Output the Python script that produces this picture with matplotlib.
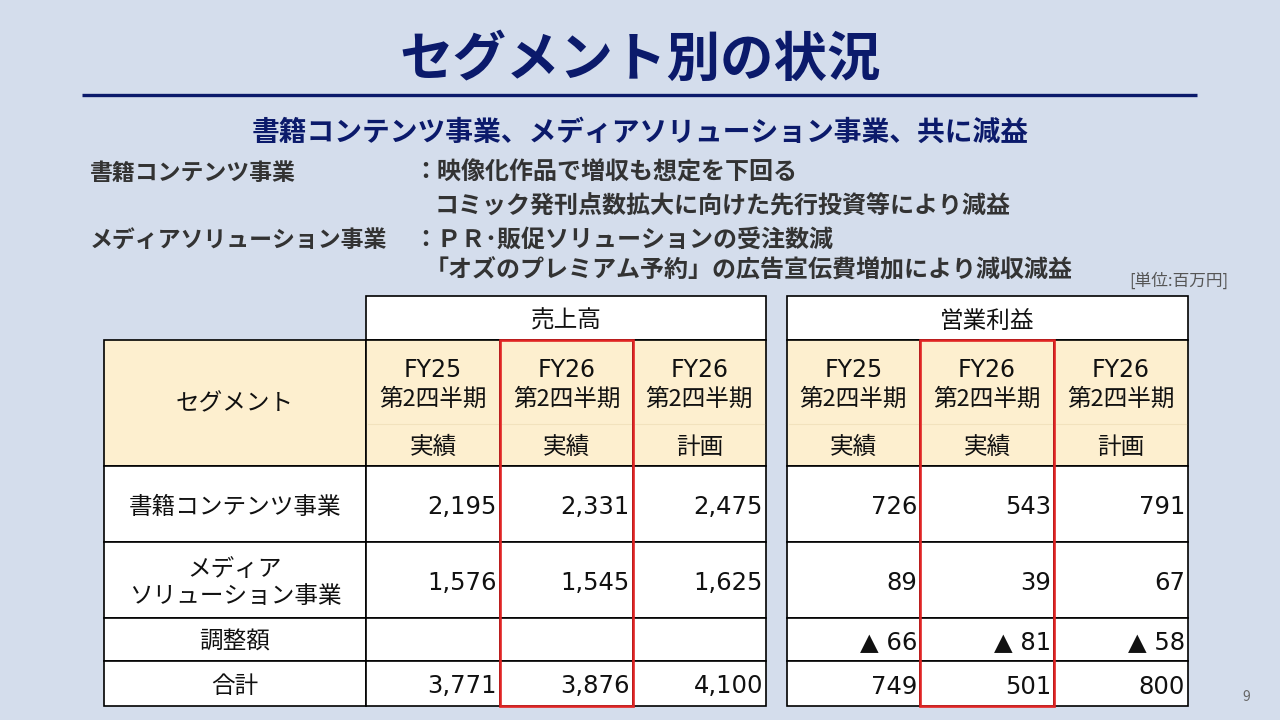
import matplotlib
matplotlib.use("Agg")
import matplotlib.pyplot as plt
from matplotlib.patches import Rectangle

plt.rcParams['font.family'] = ['Noto Sans CJK JP', 'DejaVu Sans']
NUMFONT = ['DejaVu Sans', 'Noto Sans CJK JP']

# ---------------- data ----------------
title = "セグメント別の状況"
subtitle = "書籍コンテンツ事業、メディアソリューション事業、共に減益"
body_labels = ["書籍コンテンツ事業", "メディアソリューション事業"]
body_lines = [
    "：映像化作品で増収も想定を下回る",
    "コミック発刊点数拡大に向けた先行投資等により減益",
    "：ＰＲ･販促ソリューションの受注数減",
    "「オズのプレミアム予約」の広告宣伝費増加により減収減益",
]
unit_label = "[単位:百万円]"
page_no = "9"

group_headers = ["売上高", "営業利益"]
segment_header = "セグメント"
col_years = ["FY25", "FY26", "FY26"]
col_period = ["第2四半期", "第2四半期", "第2四半期"]
col_kind = ["実績", "実績", "計画"]
segments = ["書籍コンテンツ事業", "メディア\nソリューション事業", "調整額", "合計"]

sales_fy25 = [2195, 1576, None, 3771]
sales_fy26 = [2331, 1545, None, 3876]
sales_plan = [2475, 1625, None, 4100]
op_fy25 = [726, 89, -66, 749]
op_fy26 = [543, 39, -81, 501]
op_plan = [791, 67, -58, 800]

# ---------------- style ----------------
BG = "#d4ddec"
NAVY = "#0b1a6b"
DARK = "#333333"
YELLOW = "#fdefcf"
RED = "#e02424"
DY = 3  # small downward nudge for text baseline alignment

fig = plt.figure(figsize=(12.8, 7.2), dpi=100)
fig.patch.set_facecolor(BG)
ax = fig.add_axes([0, 0, 1, 1])
ax.set_xlim(0, 1280)
ax.set_ylim(720, 0)
ax.axis("off")

# title & rule
ax.text(640, 57 + DY, title, ha="center", va="center", fontsize=38.5,
        fontweight="bold", color=NAVY)
ax.plot([82, 1197], [95, 95], color=NAVY, lw=2.4, solid_capstyle="butt")
ax.text(640, 130 + DY, subtitle, ha="center", va="center", fontsize=20,
        fontweight="bold", color=NAVY)

# body text
ax.text(90, 170 + DY, body_labels[0], ha="left", va="center", fontsize=16.5,
        fontweight="bold", color=DARK)
ax.text(90, 237 + DY, body_labels[1], ha="left", va="center", fontsize=16.5,
        fontweight="bold", color=DARK)
body_pos = [(413, 170), (435, 204), (413, 237), (425, 268)]
for (x, y), s in zip(body_pos, body_lines):
    ax.text(x, y + DY, s, ha="left", va="center", fontsize=17.3,
            fontweight="bold", color=DARK)

ax.text(1228, 281, unit_label, ha="right", va="center", fontsize=12,
        color="#555555")
ax.text(1246, 697, page_no, ha="center", va="center", fontsize=10,
        color="#666666")

# ---------------- table geometry ----------------
seg_x = (104, 366)
sales_cols = [366, 500, 633, 766]
op_cols = [787, 920, 1054, 1188]
y_top = 296
y_hdr = 340
y_hdr_bot = 466
row_edges = [466, 542, 618, 661, 706]
LW = 1.2
FS = 17


def fmt(v):
    if v is None:
        return ""
    if v < 0:
        return "▲ {:,}".format(-v)
    return "{:,}".format(v)


def draw_block(cols, header, series):
    x0, x1 = cols[0], cols[-1]
    # group header
    ax.add_patch(Rectangle((x0, y_top), x1 - x0, y_hdr - y_top,
                           facecolor="white", edgecolor="black", lw=LW))
    ax.text((x0 + x1) / 2, (y_top + y_hdr) / 2 + DY, header, ha="center",
            va="center", fontsize=FS, color="#111111")
    # column header cells
    for i in range(3):
        a, b = cols[i], cols[i + 1]
        ax.add_patch(Rectangle((a, y_hdr), b - a, y_hdr_bot - y_hdr,
                               facecolor=YELLOW, edgecolor="black", lw=LW))
        ax.plot([a + 2, b - 2], [424, 424], color="#f2e2bd", lw=0.8)
        cx = (a + b) / 2
        ax.text(cx, 367 + DY, col_years[i], ha="center", va="center",
                fontsize=FS, color="#111111", family=NUMFONT)
        ax.text(cx, 396 + DY, col_period[i], ha="center", va="center",
                fontsize=FS, color="#111111")
        ax.text(cx, 444 + DY, col_kind[i], ha="center", va="center",
                fontsize=FS, color="#111111")
    # data cells
    for r in range(len(segments)):
        ya, yb = row_edges[r], row_edges[r + 1]
        for i in range(3):
            a, b = cols[i], cols[i + 1]
            ax.add_patch(Rectangle((a, ya), b - a, yb - ya,
                                   facecolor="white", edgecolor="black",
                                   lw=LW))
            ax.text(b - 3, (ya + yb) / 2 + DY, fmt(series[i][r]), ha="right",
                    va="center", fontsize=FS + 0.5, color="#111111",
                    family=NUMFONT)
    # highlight column (current actual)
    a, b = cols[1], cols[2]
    ax.add_patch(Rectangle((a, y_hdr), b - a, row_edges[-1] - y_hdr,
                           facecolor="none", edgecolor=RED, lw=1.9,
                           zorder=5))


# segment column
ax.add_patch(Rectangle((seg_x[0], y_hdr), seg_x[1] - seg_x[0],
                       y_hdr_bot - y_hdr, facecolor=YELLOW,
                       edgecolor="black", lw=LW))
ax.text((seg_x[0] + seg_x[1]) / 2, 401 + DY, segment_header, ha="center",
        va="center", fontsize=FS, color="#111111")
for r, name in enumerate(segments):
    ya, yb = row_edges[r], row_edges[r + 1]
    ax.add_patch(Rectangle((seg_x[0], ya), seg_x[1] - seg_x[0], yb - ya,
                           facecolor="white", edgecolor="black", lw=LW))
    ax.text((seg_x[0] + seg_x[1]) / 2, (ya + yb) / 2 + DY, name, ha="center",
            va="center", fontsize=FS, color="#111111", linespacing=1.25,
            multialignment="center")

draw_block(sales_cols, group_headers[0], [sales_fy25, sales_fy26, sales_plan])
draw_block(op_cols, group_headers[1], [op_fy25, op_fy26, op_plan])

fig.savefig("out.png", dpi=100, facecolor=BG)
